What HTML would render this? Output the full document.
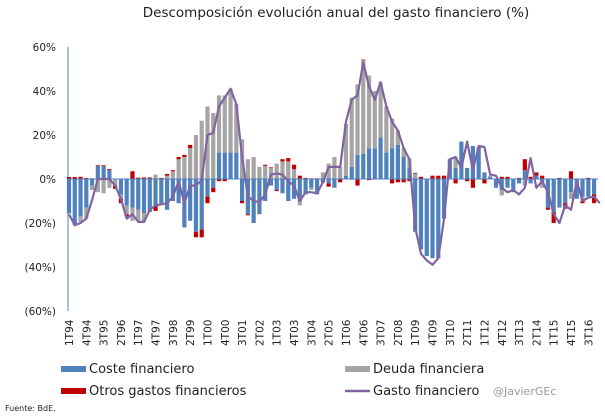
<!DOCTYPE html>
<html><head><meta charset="utf-8"><style>
html,body{margin:0;padding:0;background:#fff;width:605px;height:416px;overflow:hidden}
svg{display:block;font-family:"DejaVu Sans","Liberation Sans",sans-serif}
</style></head><body>
<svg id="chart" width="605" height="416" viewBox="0 0 605 416" xmlns="http://www.w3.org/2000/svg">
<text x="336" y="17" text-anchor="middle" font-size="13.5" fill="#222">Descomposición evolución anual del gasto financiero (%)</text>
<g id="yaxis"></g>
<g id="bars"></g>
<g id="xaxis"></g>
<g id="legend">
 <g><rect x="61" y="366" width="25" height="6" fill="#4f81bd"/><text x="89" y="373" font-size="13" fill="#222">Coste financiero</text></g>
 <g><rect x="345" y="366" width="25" height="6" fill="#a5a5a5"/><text x="373" y="373" font-size="13" fill="#222">Deuda financiera</text></g>
 <g><rect x="61" y="388" width="25" height="6" fill="#c00000"/><text x="89" y="395" font-size="13" fill="#222">Otros gastos financieros</text></g>
 <g><line x1="345" y1="391" x2="370" y2="391" stroke="#8064a2" stroke-width="2.5"/><text x="373" y="395" font-size="13" fill="#222">Gasto financiero</text></g>
</g>
<text x="493" y="395" font-size="11" fill="#999">@JavierGEc</text>
<text x="5" y="411" font-size="8" fill="#222">Fuente: BdE.</text>
</svg>
<script>
const coste=[-15.6,-21,-17,-13,-3,6,6,4,0,-7,-12,-13,-14,-15.5,-15,-12,-11,-14,-10,-11,-22,-19,-24,-23,-8,-4,12,12,12,12,
-10,-16,-20,-16,-10,-3,-5,-6.5,-10,-9,-10,-7,-4,-7,-1,-2,-4,0,1.5,5.5,11,11.5,14,14,19,12,14,15.5,10,5,
-24,-32,-35,-36,-36,-18,9,5,17,5,15,14,3,1,-4,-5,-4,-6,-2,4,-2,1.5,-2,-13,-15,-13,-11,-6,-9,-8,-8,-7];
const deuda=[0,0,-2.5,-5,-2,-6,-6.5,-4,-3,-2,-4,-6,-5,-4,0,2,0,1.5,3.5,9,10,14,20,26.5,33,30,26,26,29,22,
18,9,10,5.5,6,5,7,8,8,4.5,-2,0,-1,0,3,7,10,5.5,23.5,31.5,32,42.5,33,26,25,21,13.5,6.5,4,4.4,
2.5,0,0,0,0,0,0,5,0,0,0,0,0,0.5,0,-2.5,0,0,0,-3,0,0,-2,0,0,0,0,-3,0,-2,0,0];
const otros=[0.9,0.9,1,0.5,0.3,0.3,0.3,0.5,-1.5,-2,-1,3.5,0.6,0.7,0.7,-2.5,0.5,0.8,0.5,1,1,1.5,-2.5,-3.5,-3,-2,-1,-1,0,0,
-1,-0.5,0,0,0.5,0.3,-0.5,1,1.5,2,1.5,0.5,0.3,0.3,-0.5,-1.5,0,-1.5,0,-0.3,-3,0.3,-0.5,0,0,0,-2,-1.5,-1.5,-1,
0.3,1,0,1.5,1.5,1.5,0,-2,0,-1,-4,0.3,-2,0,0,1,1,0,0.5,5,1,1.5,1.5,-1,-5,0.5,-2.5,3.5,0,-1,0.5,-4];
const gasto=[-16,-21,-20,-18,-9.5,0,0,0,-3,-9,-18,-16,-19.5,-19.5,-14,-12,-11.5,-11,-8,-1,-11,-3,-3,-0.5,20,21,33,37,41,34,
10,-8,-10,-10.5,-7,2,2.5,2,-1,-3,-10,-6,-6,-6.5,-1.5,5.5,5.5,5.5,26,36,38,53,42,36,44,33,26,22,14,9,
-22,-34,-37,-39,-36,-18,9,10,5,17,4,15,14.5,2,1.5,-4,-6,-5,-7,-4,9.5,-4,-1,-6,-16,-20,-12,-14,-1,-10,-8.5,-8,-11];
const yTicks=[60,40,20,0,-20,-40,-60];
const yTickLabels=["60%","40%","20%","0%","(20%)","(40%)","(60%)"];
const xLabels=["1T94","4T94","3T95","2T96","1T97","4T97","3T98","2T99","1T00","4T00","3T01","2T02","1T03","4T03","3T04","2T05","1T06","4T06","3T07","2T08","1T09","4T09","3T10","2T11","1T12","4T12","3T13","2T14","1T15","4T15","3T16"];

const NS="http://www.w3.org/2000/svg";
const X0=69,STEP=5.77,Y0=179,PX=2.2,BW=4.2;
const xs=i=>X0+i*STEP;
const ys=v=>Y0-v*PX;
function mk(tag,attrs,parent){const e=document.createElementNS(NS,tag);for(const k in attrs)e.setAttribute(k,attrs[k]);parent.appendChild(e);return e;}
const yg=document.getElementById('yaxis'),bg=document.getElementById('bars'),xg=document.getElementById('xaxis');
yTicks.forEach((t,k)=>{
 const tx=mk('text',{x:56,y:ys(t)+4,'text-anchor':'end','font-size':10.5,fill:'#222'},yg);
 tx.textContent=yTickLabels[k];
 
 
});
const ax=mk('line',{x1:68,y1:ys(60),x2:68,y2:ys(-60),stroke:'#4f81bd','stroke-width':1},yg);


const series=[[coste,'#4f81bd','bar-coste'],[deuda,'#a5a5a5','bar-deuda'],[otros,'#c00000','bar-otros']];
for(let i=0;i<coste.length;i++){
 let pos=0,neg=0;
 series.forEach(([arr,col,nm])=>{
  const v=arr[i];if(!v)return;
  let a,b;
  if(v>0){a=pos;b=pos+v;pos=b;}else{a=neg;b=neg+v;neg=b;}
  const r=mk('rect',{x:xs(i)-BW/2,y:Math.min(ys(a),ys(b)),width:BW,height:Math.abs(ys(a)-ys(b)),fill:col},bg);
  
  
 });
}
const zl=mk('line',{x1:68,y1:Y0,x2:598,y2:Y0,stroke:'#4f81bd','stroke-width':1},bg);


const pl=mk('polyline',{points:gasto.map((v,i)=>xs(i)+','+ys(v)).join(' '),fill:'none',stroke:'#8064a2','stroke-width':2.2,'stroke-linejoin':'round'},bg);


xLabels.forEach((l,k)=>{
 const x=xs(k*3)+4,y=346;
 const t=mk('text',{x:x,y:y,transform:`rotate(-90 ${x} ${y})`,'font-size':10.5,fill:'#222'},xg);
 t.textContent=l;
 
 
});
</script>
</body></html>
